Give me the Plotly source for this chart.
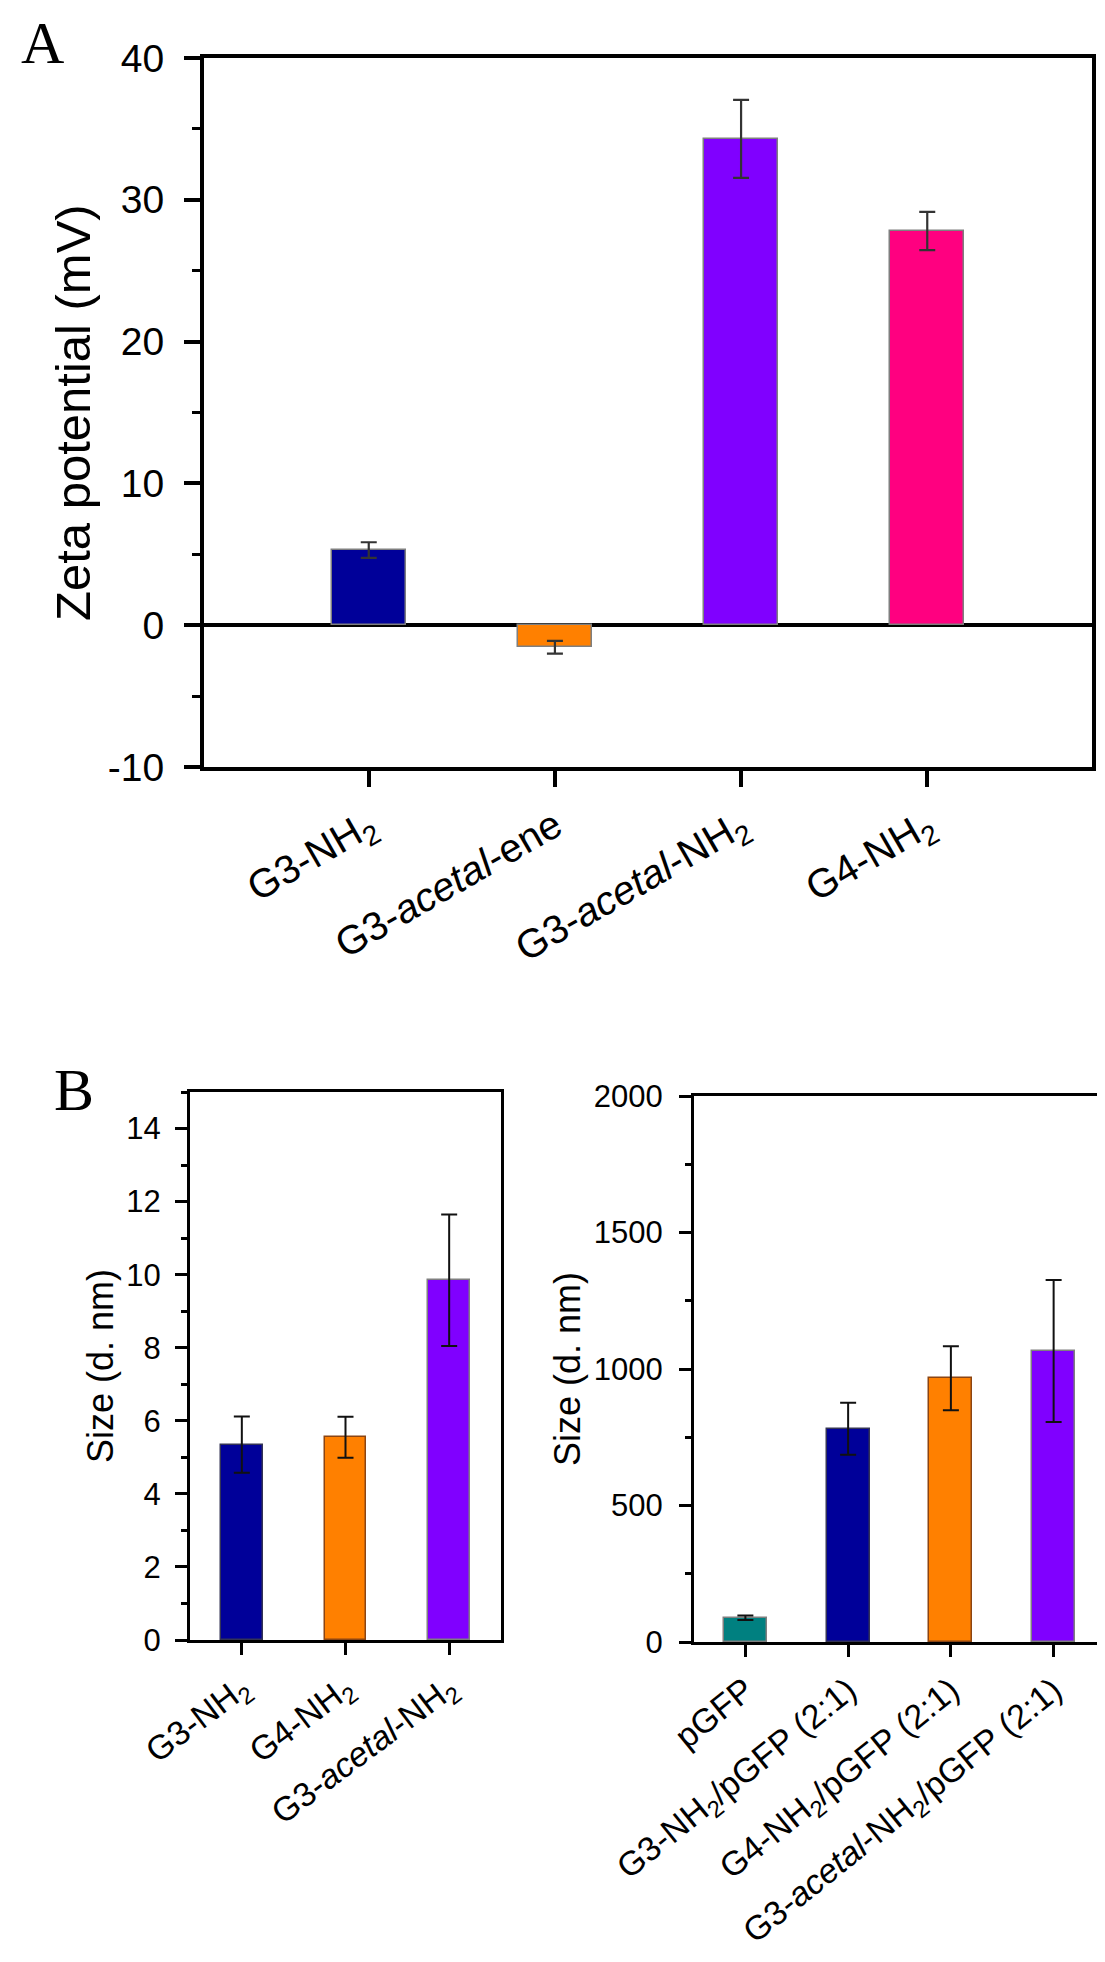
import plotly.graph_objects as go

# ---------------- data ----------------
zeta_labels = ["G3-NH<sub>2</sub>", "G3-<i>acetal</i>-ene", "G3-<i>acetal</i>-NH<sub>2</sub>", "G4-NH<sub>2</sub>"]
zeta_values = [5.3, -1.55, 34.3, 27.8]
zeta_errors = [0.55, 0.45, 2.75, 1.35]
zeta_colors = ["#000099", "#FF8000", "#8000FF", "#FF0080"]

small_labels = ["G3-NH<sub>2</sub>", "G4-NH<sub>2</sub>", "G3-<i>acetal</i>-NH<sub>2</sub>"]
small_values = [5.35, 5.55, 9.85]
small_errors = [0.77, 0.56, 1.8]
small_colors = ["#000099", "#FF8000", "#8000FF"]

complex_labels = ["pGFP", "G3-NH<sub>2</sub>/pGFP (2:1)", "G4-NH<sub>2</sub>/pGFP (2:1)",
                  "G3-<i>acetal</i>-NH<sub>2</sub>/pGFP (2:1)"]
complex_values = [89, 781, 966, 1066]
complex_errors = [8, 95, 117, 260]
complex_colors = ["#008080", "#000099", "#FF8000", "#8000FF"]

zeta_ticks = [-10, 0, 10, 20, 30, 40]
zeta_tick_text = ["-10", "0", "10", "20", "30", "40"]
small_ticks = [0, 2, 4, 6, 8, 10, 12, 14]
complex_ticks = [0, 500, 1000, 1500, 2000]

FONT = "Liberation Sans, Arial, sans-serif"
SERIF = "Liberation Serif, Times New Roman, serif"
W, H = 1105, 1962


def px_x(v):
    return v / W


def px_y(v):
    return 1 - v / H


fig = go.Figure()

fig.add_trace(go.Bar(
    x=list(range(len(zeta_values))), y=zeta_values, width=0.4,
    marker=dict(color=zeta_colors, line=dict(color="#7f7f7f", width=1.5)),
    error_y=dict(type="data", array=zeta_errors, color="#333333", thickness=2.2, width=8),
    xaxis="x", yaxis="y", showlegend=False))

fig.add_trace(go.Bar(
    x=list(range(len(small_values))), y=small_values, width=0.4,
    marker=dict(color=small_colors, line=dict(color=["#333355", "#8B4513", "#7f7f7f"], width=1.5)),
    error_y=dict(type="data", array=small_errors, color="#111111", thickness=2, width=8),
    xaxis="x2", yaxis="y2", showlegend=False))

fig.add_trace(go.Bar(
    x=list(range(len(complex_values))), y=complex_values, width=0.42,
    marker=dict(color=complex_colors,
                line=dict(color=["#7f7f7f", "#333355", "#8B4513", "#7f7f7f"], width=1.5)),
    error_y=dict(type="data", array=complex_errors, color="#111111", thickness=2, width=8),
    xaxis="x3", yaxis="y3", showlegend=False))

common_axis = dict(showgrid=False, showline=True, linecolor="black", mirror=True,
                   ticks="outside", tickcolor="black", color="black", automargin=False)

fig.update_layout(
    width=W, height=H, margin=dict(l=0, r=0, t=0, b=0, autoexpand=False),
    paper_bgcolor="white", plot_bgcolor="white",
    font=dict(family=FONT, color="black"),
    bargap=0,
    xaxis=dict(**common_axis, domain=[px_x(196), px_x(1084)], anchor="y",
               range=[-0.885, 3.885], tickvals=list(range(4)), ticktext=zeta_labels,
               tickangle=-30, linewidth=4, ticklen=16, tickwidth=3.5,
               tickfont=dict(size=40, family=FONT), zeroline=False),
    yaxis=dict(**common_axis, domain=[px_y(759), px_y(50)], anchor="x",
               range=[-10, 40], tickvals=zeta_ticks, ticktext=zeta_tick_text,
               linewidth=4, ticklen=16, tickwidth=3.5,
               tickfont=dict(size=39, family=FONT), ticklabelstandoff=12,
               zeroline=True, zerolinecolor="black", zerolinewidth=4,
               minor=dict(ticks="outside", dtick=5, tick0=0, ticklen=8, tickwidth=3, tickcolor="black")),
    xaxis2=dict(**common_axis, domain=[px_x(182), px_x(493)], anchor="y2",
                range=[-0.5, 2.5], tickvals=list(range(3)), ticktext=small_labels,
                tickangle=-37, linewidth=3, ticklen=12, tickwidth=3,
                tickfont=dict(size=34, family=FONT), zeroline=False),
    yaxis2=dict(**common_axis, domain=[px_y(1632), px_y(1084)], anchor="x2",
                range=[0, 15], tickvals=small_ticks, linewidth=3, ticklen=12, tickwidth=3,
                tickfont=dict(size=31, family=FONT), ticklabelstandoff=8, zeroline=False,
                minor=dict(ticks="outside", dtick=1, tick0=0, ticklen=6, tickwidth=2.5, tickcolor="black")),
    xaxis3=dict(**common_axis, domain=[px_x(686), px_x(1097)], anchor="y3",
                range=[-0.5, 3.5], tickvals=list(range(4)), ticktext=complex_labels,
                tickangle=-39, linewidth=3, ticklen=12, tickwidth=3,
                tickfont=dict(size=34, family=FONT), zeroline=False),
    yaxis3=dict(**common_axis, domain=[px_y(1634), px_y(1088)], anchor="x3",
                range=[0, 2000], tickvals=complex_ticks, linewidth=3, ticklen=12, tickwidth=3,
                tickfont=dict(size=31, family=FONT), ticklabelstandoff=10, zeroline=False,
                minor=dict(ticks="outside", dtick=250, tick0=0, ticklen=6, tickwidth=2.5, tickcolor="black")),
    annotations=[
        dict(text="A", x=px_x(34), y=px_y(0), xref="paper", yref="paper", showarrow=False,
             xanchor="center", yanchor="top", font=dict(family=SERIF, size=60, color="black")),
        dict(text="B", x=px_x(66), y=px_y(1047), xref="paper", yref="paper", showarrow=False,
             xanchor="center", yanchor="top", font=dict(family=SERIF, size=60, color="black")),
        dict(text="Zeta potential (mV)", x=px_x(65), y=px_y(405), xref="paper", yref="paper",
             showarrow=False, textangle=-90, xanchor="center", yanchor="middle",
             font=dict(family=FONT, size=49, color="black")),
        dict(text="Size (d. nm)", x=px_x(92), y=px_y(1358), xref="paper", yref="paper",
             showarrow=False, textangle=-90, xanchor="center", yanchor="middle",
             font=dict(family=FONT, size=36, color="black")),
        dict(text="Size (d. nm)", x=px_x(559), y=px_y(1361), xref="paper", yref="paper",
             showarrow=False, textangle=-90, xanchor="center", yanchor="middle",
             font=dict(family=FONT, size=36, color="black")),
    ],
)

fig.write_html("out.html")
